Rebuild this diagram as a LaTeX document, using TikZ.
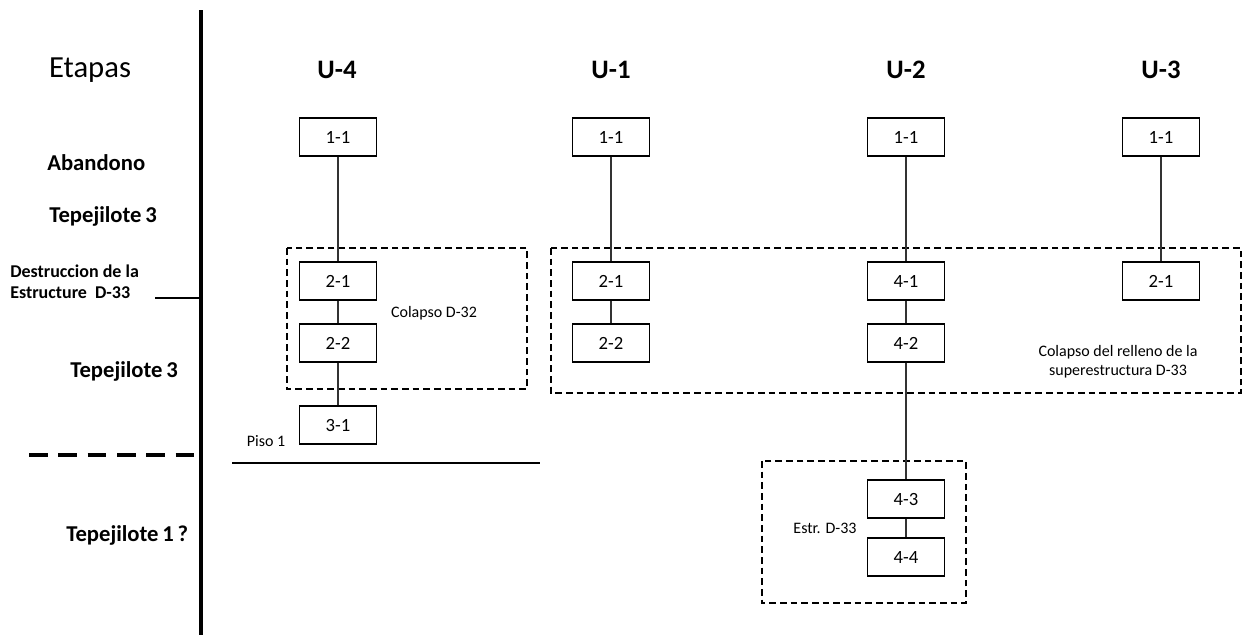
\documentclass[tikz,border=0pt]{standalone}
\usepackage{fontspec}
\setmainfont{Carlito}
\begin{document}
\begin{tikzpicture}[x=0.75pt,y=-0.75pt,
  unit/.style={draw,line width=1.1pt,minimum width=58pt,minimum height=28.5pt,inner sep=0pt,font=\fontsize{14}{16}\selectfont},
  head/.style={font=\bfseries\fontsize{20}{22}\selectfont},
  stage/.style={font=\bfseries\fontsize{17}{19}\selectfont,anchor=west,inner sep=0pt},
  small/.style={font=\fontsize{12}{14}\selectfont,align=center},
  link/.style={line width=0.8pt,draw=black!80},
  group/.style={draw,line width=1pt,dash pattern=on 5pt off 3pt}]
\useasboundingbox (0,0) rectangle (1244,639);
% axis
\coordinate (axT) at (201,10);
\coordinate (axB) at (201,635);
\draw[line width=2.3pt] (axT) -- (axB);
\coordinate (tickL) at (155,298);
\coordinate (tickR) at (201,298);
\draw[line width=2pt] (tickL) -- (tickR);
\coordinate (dashL) at (29,455);
\coordinate (dashR) at (198,455);
\draw[line width=2.4pt,dash pattern=on 14pt off 8pt] (dashL) -- (dashR);
% stage labels
\node[font=\fontsize{23}{25}\selectfont] (etapas) at (90,70) {Etapas};
\node[stage] (aband) at (47,163) {Abandono};
\node[stage] (tepe3a) at (49,216) {Tepejilote\,3};
\node[stage,font=\bfseries\fontsize{13.5}{15.5}\selectfont,align=left] (destr) at (10,282) {Destruccion de la\\Estructure\ \ D-33};
\node[stage] (tepe3b) at (70,371) {Tepejilote\,3};
\node[stage] (tepe1) at (66,535) {Tepejilote\,1\,?};
% headers
\node[head] (hU4) at (337,70) {U-4};
\node[head] (hU1) at (611,70) {U-1};
\node[head] (hU2) at (906,70) {U-2};
\node[head] (hU3) at (1161,70) {U-3};
% groups
\draw[group] (287,248) rectangle (527,389);
\draw[group] (551,248) rectangle (1241,393);
\draw[group] (762,461) rectangle (966,603);
\node[small] (lcol32) at (434,313) {Colapso D-32};
\node[small] (lcol33) at (1118,362) {Colapso del relleno de la\\superestructura D-33};
\node[small] (lestr) at (825,528) {Estr. D-33};
% floor
\node[small] (piso) at (266,441) {Piso 1};
\coordinate (flL) at (232,463);
\coordinate (flR) at (540,463);
\draw[line width=1pt] (flL) -- (flR);
% U-4
\node[unit] (a11) at (338,137) {1-1};
\node[unit] (a21) at (338,281) {2-1};
\node[unit] (a22) at (338,343) {2-2};
\node[unit] (a31) at (338,425) {3-1};
% U-1
\node[unit] (b11) at (611,137) {1-1};
\node[unit] (b21) at (611,281) {2-1};
\node[unit] (b22) at (611,343) {2-2};
% U-2
\node[unit] (c11) at (906,137) {1-1};
\node[unit] (c41) at (906,281) {4-1};
\node[unit] (c42) at (906,343) {4-2};
\node[unit] (c43) at (906,499) {4-3};
\node[unit] (c44) at (906,557) {4-4};
% U-3
\node[unit] (d11) at (1161,137) {1-1};
\node[unit] (d21) at (1161,281) {2-1};
% links
\draw[link] (a11) -- (a21);
\draw[link] (a21) -- (a22);
\draw[link] (a22) -- (a31);
\draw[link] (b11) -- (b21);
\draw[link] (b21) -- (b22);
\draw[link] (c11) -- (c41);
\draw[link] (c41) -- (c42);
\draw[link] (c42) -- (c43);
\draw[link] (c43) -- (c44);
\draw[link] (d11) -- (d21);
\end{tikzpicture}
\end{document}
